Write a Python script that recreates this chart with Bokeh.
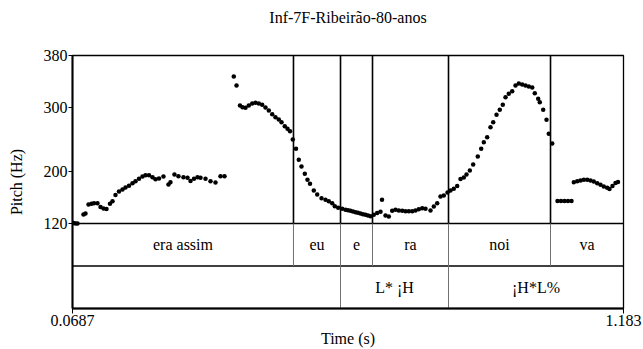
from bokeh.plotting import figure
from bokeh.models import Range1d, FixedTicker, Title
from bokeh.core.properties import value
from bokeh.embed import file_html
from bokeh.resources import INLINE

title = "Inf-7F-Ribeirão-80-anos"
t_start, t_end = 0.0687, 1.183
f0_min, f0_max = 120, 380
y_ticks = [120, 200, 300, 380]

pitch_time = [
    0.0707, 0.0748, 0.0788, 0.0909, 0.0950, 0.1011, 0.1071, 0.1122, 0.1193, 0.1253,
    0.1314, 0.1375, 0.1445, 0.1496, 0.1556, 0.1627, 0.1698, 0.1759, 0.1830, 0.1900,
    0.1961, 0.2032, 0.2102, 0.2163, 0.2234, 0.2305, 0.2365, 0.2436, 0.2527, 0.2628,
    0.2668, 0.2749, 0.2830, 0.2931, 0.3013, 0.3073, 0.3144, 0.3215, 0.3276, 0.3377,
    0.3478, 0.3579, 0.3680, 0.3761,
    0.3949, 0.4004, 0.4074, 0.4125, 0.4186, 0.4252, 0.4321, 0.4388, 0.4455, 0.4523,
    0.4590, 0.4657, 0.4726, 0.4792, 0.4859, 0.4914, 0.4980, 0.5035, 0.5086, 0.5142,
    0.5207, 0.5263, 0.5318, 0.5385, 0.5439, 0.5490, 0.5567, 0.5636, 0.5723, 0.5803,
    0.5870, 0.5939, 0.5992, 0.6060, 0.6141, 0.6208, 0.6258, 0.6309, 0.6359, 0.6410,
    0.6460, 0.6511, 0.6561, 0.6612, 0.6663, 0.6713, 0.6780, 0.6849, 0.6916, 0.6946,
    0.7017, 0.7084, 0.7152, 0.7219, 0.7286, 0.7355, 0.7421, 0.7488, 0.7557, 0.7623,
    0.7690, 0.7759, 0.7826, 0.7927, 0.7994, 0.8062, 0.8129, 0.8196, 0.8271, 0.8331,
    0.8398, 0.8467, 0.8534, 0.8600, 0.8655, 0.8722, 0.8790, 0.8883, 0.8952, 0.9005,
    0.9073, 0.9140, 0.9195, 0.9262, 0.9328, 0.9389, 0.9444, 0.9510, 0.9579, 0.9646,
    0.9713, 0.9781, 0.9848, 0.9915, 0.9984, 1.0036, 1.0105, 1.0137, 1.0206, 1.0273,
    1.0319, 1.0388,
    1.0495, 1.0566, 1.0637, 1.0707, 1.0778, 1.0825, 1.0894, 1.0960, 1.1027, 1.1096,
    1.1163, 1.1229, 1.1298, 1.1365, 1.1431, 1.1500, 1.1547, 1.1607, 1.1668, 1.1719,
]
pitch_hz = [
    120.8, 120.0, 120.0, 133.9, 135.5, 149.4, 150.5, 151.4, 151.4, 145.5,
    143.2, 142.4, 150.5, 154.5, 164.1, 169.5, 172.6, 175.7, 178.3, 182.4,
    185.5, 189.2, 192.7, 194.8, 194.8, 191.7, 188.6, 189.6, 192.7, 180.4,
    183.9, 195.8, 193.2, 191.7, 190.7, 185.8, 189.2, 191.7, 190.7, 189.2,
    185.5, 183.5, 193.2, 193.2,
    347.5, 333.6, 302.6, 300.0, 299.1, 302.6, 305.7, 306.8, 305.7, 303.7,
    299.5, 294.9, 289.2, 284.5, 281.0, 276.8, 270.6, 266.6, 262.8, 250.0,
    235.6, 218.6, 208.2, 196.9, 187.6, 181.4, 171.1, 164.9, 159.2, 156.7,
    154.5, 151.4, 146.8, 144.3, 142.8, 141.2, 140.4, 139.7, 138.6, 137.5,
    136.6, 135.5, 134.5, 133.5, 132.4, 131.3, 133.5, 136.3, 138.1, 156.7,
    132.4, 130.8, 139.7, 141.2, 140.1, 139.7, 139.0, 139.0, 139.0, 140.1,
    142.1, 143.7, 142.8, 140.1, 146.3, 151.4, 161.8, 163.3, 168.0, 171.1,
    173.7, 178.0, 188.9, 191.2, 195.8, 202.0, 211.3, 223.7, 235.6, 245.8,
    253.6, 269.0, 276.8, 288.2, 296.0, 303.7, 315.5, 320.7, 324.8, 333.6,
    336.7, 335.1, 333.6, 332.0, 330.5, 321.7, 313.0, 307.7, 296.0, 280.5,
    258.8, 243.8,
    154.8, 154.8, 154.8, 154.8, 154.8, 183.9, 185.5, 186.5, 187.6, 187.6,
    186.5, 185.0, 182.4, 179.9, 177.3, 175.3, 173.4, 178.0, 182.7, 184.2,
]

words = ["era assim", "eu", "e", "ra", "noi", "va"]
word_bounds = [0.0687, 0.5156, 0.6107, 0.6754, 0.8291, 1.0354, 1.183]
tones = ["", "L* ¡H", "¡H*L%"]
tone_bounds = [0.0687, 0.6107, 0.8291, 1.183]

FONT = "Liberation Serif"

# layout: pitch panel 168 px tall, each tier row 42.5 px tall
pitch_px, tier_px = 168.0, 42.5
y_lo = f0_min - 2 * tier_px * (f0_max - f0_min) / pitch_px

p = figure(width=643, height=349, output_backend="svg", toolbar_location=None,
           x_range=Range1d(t_start, t_end), y_range=Range1d(y_lo, f0_max),
           min_border_left=72, min_border_right=20, min_border_top=55,
           min_border_bottom=41)
p.extra_y_ranges = {"tiers": Range1d(0, (pitch_px + 2 * tier_px) / tier_px)}
p.xgrid.visible = False
p.ygrid.visible = False
p.outline_line_color = "black"
p.outline_line_width = 1.3
p.background_fill_color = "white"
p.border_fill_color = "white"

p.title = Title(text=title, align="center", vertical_align="bottom", text_font=FONT,
                text_font_size="16px", text_font_style="normal", text_color="black",
                standoff=0)
# empty spacer between the frame and the title
p.add_layout(Title(text=" ", text_font_size="1px", standoff=27), "above")

# y axis
ya = p.yaxis[0]
ya.ticker = FixedTicker(ticks=y_ticks)
ya.major_label_text_font = FONT
ya.major_label_text_font_size = "16px"
ya.major_label_text_color = "black"
ya.major_tick_out = 4
ya.major_tick_in = 0
ya.minor_tick_out = 0
ya.minor_tick_in = 0
ya.major_label_standoff = 1
ya.axis_line_width = 2
ya.axis_line_color = "black"
ya.major_tick_line_color = "black"
ya.axis_label = "Pitch (Hz)"
ya.axis_label_text_font = FONT
ya.axis_label_text_font_size = "16px"
ya.axis_label_text_font_style = "normal"
ya.axis_label_text_color = "black"
ya.axis_label_standoff = 16

# x axis
xa = p.xaxis[0]
xa.ticker = FixedTicker(ticks=[t_start, t_end])
xa.major_label_overrides = {t_start: "0.0687", t_end: "1.183"}
xa.major_label_text_font = FONT
xa.major_label_text_font_size = "16px"
xa.major_label_text_color = "black"
xa.major_tick_out = 5
xa.major_tick_in = 0
xa.minor_tick_out = 0
xa.minor_tick_in = 0
xa.major_label_standoff = 1
xa.axis_line_width = 2
xa.axis_line_color = "black"
xa.axis_label = "Time (s)"
xa.axis_label_text_font = FONT
xa.axis_label_text_font_size = "16px"
xa.axis_label_text_font_style = "normal"
xa.axis_label_text_color = "black"
xa.axis_label_standoff = 1

# boundaries in pitch panel
inner_w = word_bounds[1:-1]
p.segment(x0=inner_w, y0=[f0_min] * len(inner_w), x1=inner_w, y1=[f0_max] * len(inner_w),
          line_color="black", line_width=1.6)

# pitch points
p.scatter(pitch_time, pitch_hz, size=4.5, color="black", line_width=0)

# tier horizontal separators
p.segment(x0=[t_start, t_start], y0=[2, 1], x1=[t_end, t_end], y1=[2, 1],
          y_range_name="tiers", line_color="black", line_width=1.3)
# tier boundaries
p.segment(x0=inner_w, y0=[1] * len(inner_w), x1=inner_w, y1=[2] * len(inner_w),
          y_range_name="tiers", line_color="#707070", line_width=1)
inner_t = tone_bounds[1:-1]
p.segment(x0=inner_t, y0=[0] * len(inner_t), x1=inner_t, y1=[1] * len(inner_t),
          y_range_name="tiers", line_color="#707070", line_width=1)

# tier texts
wc = [(a + b) / 2 for a, b in zip(word_bounds[:-1], word_bounds[1:])]
p.text(x=wc, y=[1.5] * len(wc), text=words, y_range_name="tiers",
       text_align="center", text_baseline="middle", text_font=value(FONT),
       text_font_size="16px", text_color="black")
tc = [(a + b) / 2 for a, b in zip(tone_bounds[:-1], tone_bounds[1:])]
p.text(x=tc, y=[0.5] * len(tc), text=tones, y_range_name="tiers",
       text_align="center", text_baseline="middle", text_font=value(FONT),
       text_font_size="16px", text_color="black")

open("out.html", "w").write(file_html(p, INLINE))
